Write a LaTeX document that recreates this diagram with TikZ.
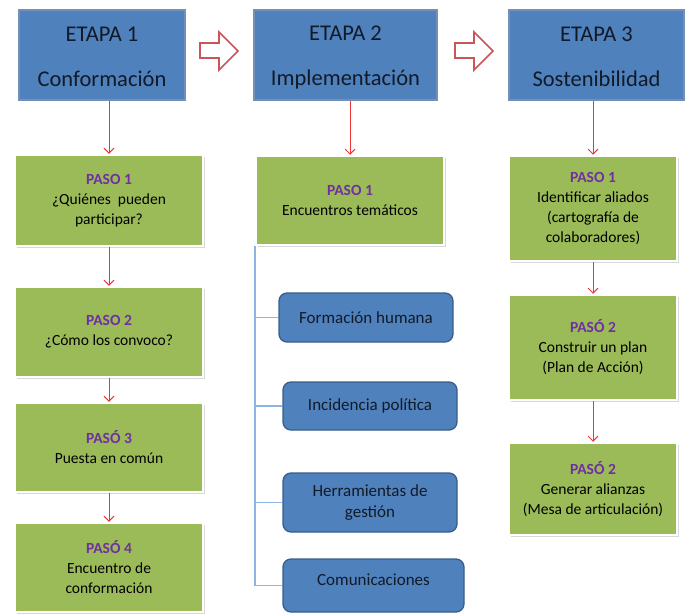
\documentclass[tikz,border=0pt]{standalone}
\usepackage{fontspec}
\setmainfont{Carlito}
\usetikzlibrary{arrows.meta,shadows}

\definecolor{etapablue}{HTML}{4F81BD}
\definecolor{etapaline}{HTML}{7590B6}
\definecolor{temaline}{HTML}{385D8A}
\definecolor{pasogreen}{HTML}{9BBB59}
\definecolor{pasopurple}{HTML}{7030A0}
\definecolor{flechared}{HTML}{EE3535}
\definecolor{huecared}{HTML}{C9555A}
\definecolor{ramablue}{HTML}{8DB3E2}
\definecolor{textoazul}{HTML}{121A28}

\newcommand{\paso}[1]{{\bfseries\color{pasopurple}#1}}
\newcommand{\arriba}{\rule{0pt}{19pt}}

\begin{document}
\begin{tikzpicture}[x=1pt,y=-1pt]

    \tikzset{
      etapa/.style={
        draw=etapaline,
        line width=1.2pt,
        fill=etapablue,
        text=textoazul,
        align=center,
        inner sep=0pt,
        minimum height=90pt,
        font=\fontsize{22.5}{24}\selectfont,
      },
      pasobox/.style={
        draw=white,
        line width=2.5pt,
        fill=pasogreen,
        drop shadow={shadow xshift=1.5pt,shadow yshift=-1.5pt,fill=black!30},
        align=center,
        inner sep=0pt,
        font=\fontsize{15.5}{20}\selectfont,
      },
      tema/.style={
        draw=temaline,
        line width=1.3pt,
        fill=etapablue,
        rounded corners=8pt,
        text=textoazul,
        align=center,
        inner sep=0pt,
        font=\fontsize{17}{21}\selectfont,
      },
      flecha/.style={
        draw=flechared,
        line width=0.9pt,
        -{Straight Barb[length=5pt,width=10pt]},
      },
      rama/.style={draw=ramablue,line width=1.4pt},
      hueca/.style={draw=huecared,line width=1.6pt,fill=white,line join=miter},
    }
    \useasboundingbox (0,0) rectangle (685,613);

    % etapas
    \node[etapa,minimum width=166pt] (e1) at (102,55) {\arriba ETAPA 1\\[21pt]Conformación};
    \node[etapa,minimum width=183pt] (e2) at (345.5,55) {\arriba ETAPA 2\\[21pt]Implementación};
    \node[etapa,minimum width=175pt] (e3) at (596.5,55) {\arriba ETAPA 3\\[21pt]Sostenibilidad};

    \draw[hueca] (200,43)--(219,43)--(219,32)--(238,51)--(219,70)--(219,58)--(200,58)--cycle;
    \draw[hueca] (455,43)--(474,43)--(474,32)--(493,51)--(474,70)--(474,58)--(455,58)--cycle;

    % etapa 1
    \node[pasobox,minimum width=188pt,minimum height=91pt] (p11) at (109,200.5) {\paso{PASO 1}\\¿Quiénes\ \ pueden\\participar?};
    \node[pasobox,minimum width=188pt,minimum height=90pt] (p12) at (109,332) {\paso{PASO 2}\\¿Cómo los convoco?};
    \node[pasobox,minimum width=188pt,minimum height=89pt] (p13) at (109,447.5) {\paso{PASÓ 3}\\Puesta en común};
    \node[pasobox,minimum width=188pt,minimum height=89pt] (p14) at (109,567.5) {\paso{PASÓ 4}\\Encuentro de\\conformación};

    \draw[flecha] (e1.south -| p11.north) -- (p11.north);
    \draw[flecha] (p11) -- (p12);
    \draw[flecha] (p12) -- (p13);
    \draw[flecha] (p13) -- (p14);

    % etapa 2
    \node[pasobox,minimum width=188pt,minimum height=89pt] (p21) at (350,200.5) {\paso{PASO 1}\\Encuentros temáticos};
    \node[tema,minimum width=174pt,minimum height=49pt] (t1) at (366,317.5) {Formación humana};
    \node[tema,minimum width=174pt,minimum height=48pt] (t2) at (370,406) {Incidencia política};
    \node[tema,minimum width=174pt,minimum height=59pt] (t3) at (370,502.5) {Herramientas de\\gestión};
    \node[tema,minimum width=181pt,minimum height=53pt,text depth=12pt] (t4) at (373.5,585.5) {Comunicaciones};

    \draw[flecha] (e2.south -| p21.north) -- (p21.north);
    \coordinate (tronco) at (255,246);
    \draw[rama] (tronco) |- (t4.west);
    \draw[rama] (t1.west -| tronco) -- (t1.west);
    \draw[rama] (t2.west -| tronco) -- (t2.west);
    \draw[rama] (t3.west -| tronco) -- (t3.west);

    % etapa 3
    \node[pasobox,minimum width=168pt,minimum height=105pt] (p31) at (593,208.5) {\paso{PASO 1}\\Identificar aliados\\(cartografía de\\colaboradores)};
    \node[pasobox,minimum width=168pt,minimum height=105pt] (p32) at (593,347.5) {\paso{PASÓ 2}\\Construir un plan\\(Plan de Acción)};
    \node[pasobox,minimum width=168pt,minimum height=92pt] (p33) at (593,489) {\paso{PASÓ 2}\\Generar alianzas\\(Mesa de articulación)};

    \draw[flecha] (e3.south -| p31.north) -- (p31.north);
    \draw[flecha] (p31) -- (p32);
    \draw[flecha] (p32) -- (p33);

\end{tikzpicture}
\end{document}
